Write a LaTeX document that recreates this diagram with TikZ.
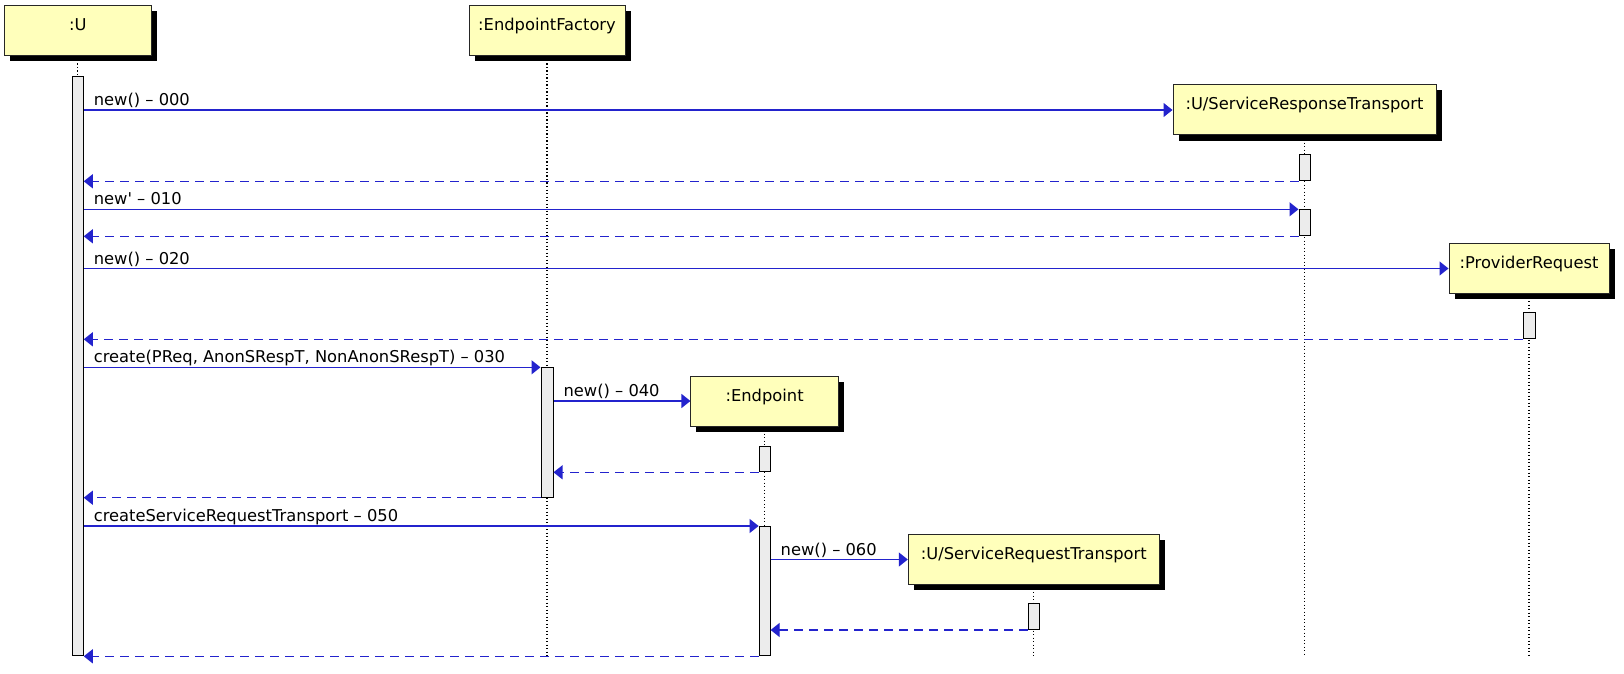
\documentclass[tikz,border=0pt]{standalone}
\usepackage{fontspec}
\setmainfont{DejaVu Sans}[Ligatures=TeXOff]
\usetikzlibrary{arrows.meta,shadows}
\definecolor{msgblue}{RGB}{35,35,205}
\definecolor{boxyellow}{RGB}{255,255,187}
\definecolor{barfill}{RGB}{236,236,236}
\pgfdeclarelayer{bg}
\pgfsetlayers{bg,main}
\begin{document}
\begin{tikzpicture}[x=1pt,y=-1pt,
  every node/.style={font=\fontsize{16.3}{19}\selectfont},
  objbox/.style={rectangle, draw=black!85, line width=1pt, fill=boxyellow,
    minimum height=50pt, inner xsep=2pt, inner ysep=0pt,
    text height=6pt, text depth=6pt,
    drop shadow={shadow xshift=5.5pt, shadow yshift=-5.5pt, fill=black, opacity=1}},
  actbar/.style={rectangle, draw=black, line width=1pt, fill=barfill,
    inner sep=0pt, minimum width=11pt, anchor=north},
  lifeline/.style={draw=black, line width=1.3pt, dash pattern=on 1.3pt off 2.2pt},
  msg/.style={draw=msgblue, line width=1.2pt, -{Triangle[length=9pt,width=14pt]}},
  ret/.style={msg, dash pattern=on 9pt off 6pt},
  lbl/.style={pos=0, anchor=base west, xshift=9.5pt, yshift=4.5pt, inner sep=0pt, text=black}]
\useasboundingbox (0,0) rectangle (1624,674);

% objects
\node[objbox, minimum width=147.5pt] (u)   at (77.75,31)  {:U};
\node[objbox, minimum width=156pt]   (ef)  at (547,31)    {:EndpointFactory};
\node[objbox, minimum width=263pt]   (srt) at (1304.5,110) {:U/ServiceResponseTransport};
\node[objbox, minimum width=160pt]   (pr)  at (1529,268.5) {:ProviderRequest};
\node[objbox, minimum width=147.3pt] (ep)  at (764.6,401) {:Endpoint};
\node[objbox, minimum width=251pt]   (srq) at (1033.8,559.5) {:U/ServiceRequestTransport};

% activation bars
\node[actbar, minimum height=579.3pt] (ub) at (77.75,76) {};
\node[actbar, minimum height=26pt] (srtb1) at (1304.5,154.3) {};
\node[actbar, minimum height=26pt] (srtb2) at (1304.5,209.3) {};
\node[actbar, minimum height=26pt, minimum width=12pt] (prb) at (1529,312.3) {};
\node[actbar, minimum height=129.4pt, minimum width=12pt] (efb) at (547,367.3) {};
\node[actbar, minimum height=25.6pt] (epb1) at (764.6,445.7) {};
\node[actbar, minimum height=129.3pt] (epb2) at (764.6,526) {};
\node[actbar, minimum height=25.7pt] (srqb) at (1033.8,603.3) {};

\coordinate (bottom) at (0,655.3);

% lifelines
\begin{pgfonlayer}{bg}
\draw[lifeline] (u.south) -- (ub.north);
\draw[lifeline] (ef.south) -- (ef.south |- bottom);
\draw[lifeline] (srt.south) -- (srt.south |- bottom);
\draw[lifeline] (pr.south) -- (pr.south |- bottom);
\draw[lifeline] (ep.south) -- (ep.south |- bottom);
\draw[lifeline] (srq.south) -- (srq.south |- bottom);
\end{pgfonlayer}

% messages
\draw[msg] (ub.east |- srt.west) -- node[lbl] {new() – 000} (srt.west);
\draw[ret] (srtb1.south west) -- (ub.east |- srtb1.south west);
\draw[msg] (ub.east |- srtb2.north west) -- node[lbl] {new' – 010} (srtb2.north west);
\draw[ret] (srtb2.south west) -- (ub.east |- srtb2.south west);
\draw[msg] (ub.east |- pr.west) -- node[lbl] {new() – 020} (pr.west);
\draw[ret] (prb.south west) -- (ub.east |- prb.south west);
\draw[msg] (ub.east |- efb.north west) -- node[lbl] {create(PReq, AnonSRespT, NonAnonSRespT) – 030} (efb.north west);
\draw[msg] (efb.east |- ep.west) -- node[lbl] {new() – 040} (ep.west);
\draw[ret] (epb1.south west) -- (efb.east |- epb1.south west);
\draw[ret] (efb.south west) -- (ub.east |- efb.south west);
\draw[msg] (ub.east |- epb2.north west) -- node[lbl] {createServiceRequestTransport – 050} (epb2.north west);
\draw[msg] (epb2.east |- srq.west) -- node[lbl] {new() – 060} (srq.west);
\draw[ret] (srqb.south west) -- (epb2.east |- srqb.south west);
\draw[ret] (epb2.south west) -- (ub.east |- epb2.south west);
\end{tikzpicture}
\end{document}
